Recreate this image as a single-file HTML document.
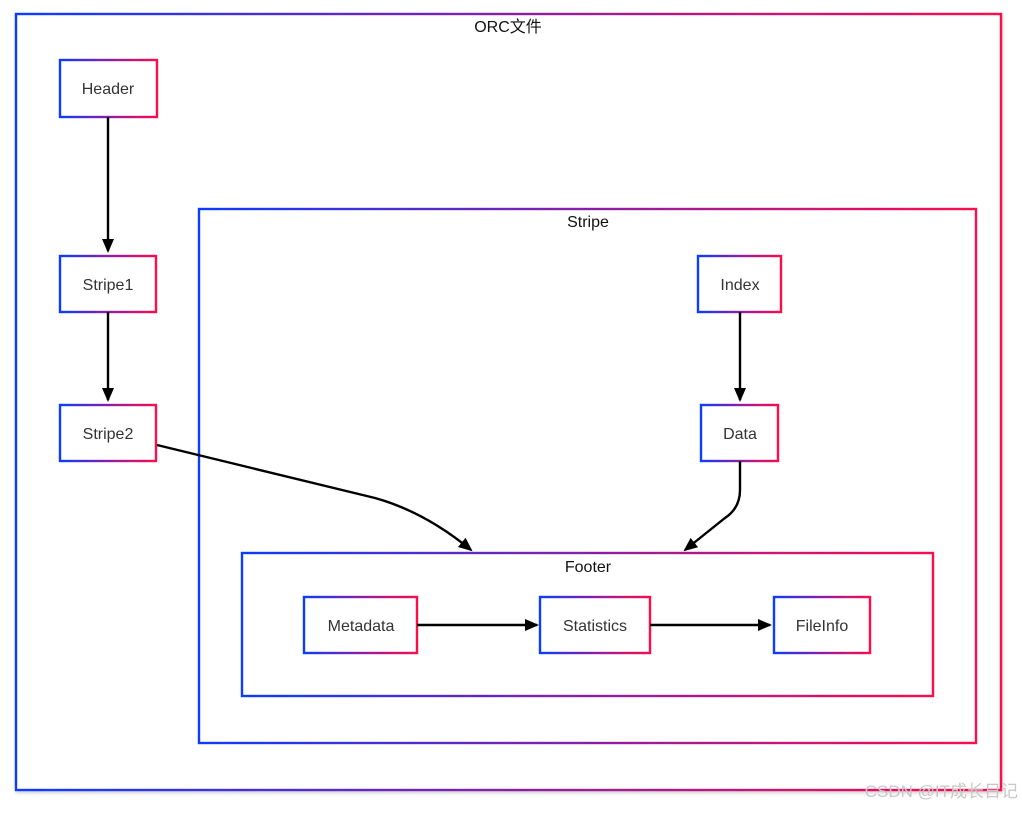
<!DOCTYPE html>
<html><head><meta charset="utf-8"><style>
html,body{margin:0;padding:0;background:#fff;}
svg text{font-family:"Liberation Sans","Noto Sans CJK SC",sans-serif;font-size:16px;}
</style></head><body>
<svg width="1022" height="808" xmlns="http://www.w3.org/2000/svg">
<defs>
<linearGradient id="g" x1="0" y1="0" x2="1" y2="0">
<stop offset="0" stop-color="#0a3cff"/><stop offset="0.5" stop-color="#8a1fa6"/><stop offset="1" stop-color="#ff0a4a"/>
</linearGradient>
<marker id="a" markerWidth="14" markerHeight="14" refX="12" refY="7" orient="auto" markerUnits="userSpaceOnUse"><path d="M0,1 L14,7 L0,13 z" fill="#000"/></marker>
<filter id="s" x="-10%" y="-10%" width="120%" height="130%"><feDropShadow dx="1" dy="2" stdDeviation="1.5" flood-color="#000" flood-opacity="0.18"/></filter>
</defs>
<g fill="#fff" stroke="url(#g)" stroke-width="2.4" filter="url(#s)">
<rect x="16" y="14" width="985" height="776"/>
<rect x="199" y="209" width="777" height="534"/>
<rect x="242" y="553" width="691" height="143"/>
<rect x="60" y="60" width="97" height="57"/>
<rect x="60" y="256" width="96" height="56"/>
<rect x="60" y="405" width="96" height="56"/>
<rect x="698" y="256" width="83" height="56"/>
<rect x="701" y="405" width="77" height="56"/>
<rect x="304" y="597" width="113" height="56"/>
<rect x="540" y="597" width="110" height="56"/>
<rect x="774" y="597" width="96" height="56"/>
</g>
<g stroke="#000" stroke-width="2.4" fill="none" marker-end="url(#a)">
<path d="M108,117 L108,251"/>
<path d="M108,312 L108,400"/>
<path d="M740,312 L740,400"/>
<path d="M157,445 L375,498 Q425,512 471,550"/>
<path d="M740,461 L740,490 Q740,508 725,518 L685,550"/>
<path d="M417,625 L537,625"/>
<path d="M650,625 L770,625"/>
</g>
<g fill="#333" text-anchor="middle">
<text x="508" y="32" fill="#111">ORC文件</text>
<text x="588" y="227" fill="#111">Stripe</text>
<text x="588" y="572" fill="#111">Footer</text>
<text x="108" y="94">Header</text>
<text x="108" y="290">Stripe1</text>
<text x="108" y="439">Stripe2</text>
<text x="740" y="290">Index</text>
<text x="740" y="439">Data</text>
<text x="361" y="631">Metadata</text>
<text x="595" y="631">Statistics</text>
<text x="822" y="631">FileInfo</text>
</g>
<text x="1018" y="797" text-anchor="end" fill="#c8c8c8" style="font-size:17px">CSDN @IT成长日记</text>
</svg>
</body></html>
